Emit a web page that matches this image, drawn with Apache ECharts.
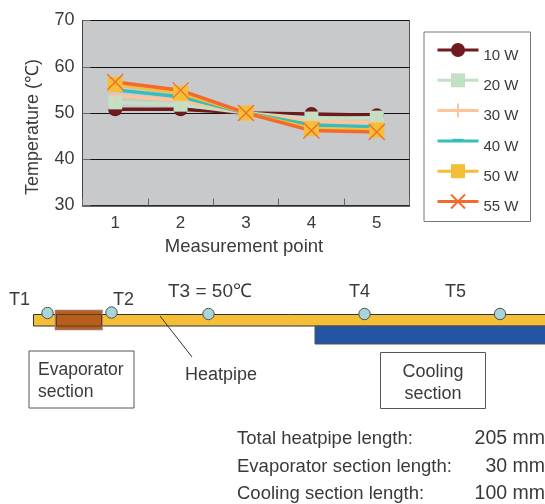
<!DOCTYPE html>
<html><head><meta charset="utf-8">
<style>html,body{margin:0;padding:0;background:#fff}#c{width:545px;height:504px}</style>
<script src="https://cdn.jsdelivr.net/npm/echarts@6/dist/echarts.min.js"></script>
</head><body><div id="c"></div>
<script>
const categories = ['1','2','3','4','5'];
const seriesNames = ['10 W','20 W','30 W','40 W','50 W','55 W'];
const w10 = [50.8,50.8,50,49.8,49.5];
const w20 = [52.3,51.8,50,48.8,49.0];
const w30 = [53.8,52.7,50,48.2,47.9];
const w40 = [55.0,53.5,50,47.4,47.0];
const w50 = [56.2,54.3,50,46.6,46.3];
const w55 = [56.7,54.9,50,46.2,45.9];
const yTicks = {min:30,max:70,interval:10};
const specRows = [['Total heatpipe length:','205 mm'],['Evaporator section length:','30 mm'],['Cooling section length:','100 mm']];

const FONT = '"Liberation Sans", Arial, sans-serif';
const TXT = '#3a3a3a';
const crossPath = 'path://M0,0L1,1M1,0L0,1';
const plusPath = 'path://M0.5,0L0.5,1M0,0.5L1,0.5';
const dashPath = 'path://M0,0L0,0M1,1L1,1M0.1,0.42L0.9,0.42';
function line(name,data,color,width,symbol,size,lineSymbol){
  return {name,type:'line',data,symbol,symbolSize:size,showAllSymbol:true,
    lineStyle:{color,width},
    itemStyle: lineSymbol ? {color:'rgba(0,0,0,0)',borderColor:color,borderWidth:1.3} : {color,borderWidth:0},
    emphasis:{disabled:true},animation:false};
}
function t(x,y,text,size,opts){
  return {type:'text',x,y,z:10,style:Object.assign({text,font:(size||15)+'px '+FONT,fill:TXT,textVerticalAlign:'middle',textBaseline:'middle'},opts||{})};
}
function r(x,y,w,h,fill,stroke,lw){
  return {type:'rect',z:5,shape:{x,y,width:w,height:h},style:{fill,stroke,lineWidth:lw||1}};
}
function dot(x,y){return {type:'circle',z:7,shape:{cx:x,cy:y,r:5.7},style:{fill:'#A9D5D8',stroke:'#44555a',lineWidth:1}};}

const graphic = [
  r(33.5,314.5,520,11.5,'#F4BE37','#333',1),
  r(315,326,240,18,'#2455A4','#555',1),
  r(55.5,310.5,46.5,19,'#B75E1C','#A87466',1.5),
  r(56.5,314.5,45,11.5,'rgba(0,0,0,0)','#5a3a20',1),
  dot(47.5,313),dot(111.5,312.5),dot(208.5,314),dot(364.5,314),dot(500,314),
  {type:'line',z:6,shape:{x1:160,y1:316,x2:192,y2:357},style:{stroke:'#333',lineWidth:1}},
  r(29,351,105,57,'#fff','#555',1),
  r(380.5,352.5,105,56,'#fff','#555',1),
  t(9,300,'T1',18),t(113,300,'T2',18),t(168,292,'T3 = 50℃',19),t(349,292,'T4',18),t(445,292,'T5',18),
  t(185,375,'Heatpipe',18),
  t(38,370,'Evaporator',17.5),t(38,392,'section',17.5),
  t(433,372,'Cooling',18,{textAlign:'center'}),t(433,394,'section',18,{textAlign:'center'})
];
specRows.forEach((row,i)=>{
  const y=439+i*27.5;
  graphic.push(t(237,y,row[0],18.5));
  graphic.push(t(545,y,row[1],19.5,{textAlign:'right'}));
});

const chart = echarts.init(document.getElementById('c'),null,{renderer:'canvas'});
chart.setOption({
  animation:false,
  backgroundColor:'#fff',
  grid:{left:82.5,top:20.5,width:327,height:185,backgroundColor:'#C8C9CB',show:true,borderColor:'#555',borderWidth:1},
  legend:{orient:'vertical',left:424,top:32,padding:[10,12,7,12],itemWidth:41,itemHeight:17.5,itemGap:9.3,
    borderColor:'#777',borderWidth:1,backgroundColor:'#fff',data:seriesNames,
    lineStyle:{width:3},
    formatter:n=>'{s|}\n{a|'+n+'}',
    textStyle:{rich:{s:{height:11,fontSize:1},a:{fontFamily:FONT,fontSize:15,color:TXT,height:15}}}},
  xAxis:{type:'category',data:categories,boundaryGap:true,
    name:'Measurement point',nameLocation:'middle',nameGap:32,nameTextStyle:{fontFamily:FONT,fontSize:18.5,color:TXT,padding:[0,4,0,0]},
    axisLine:{lineStyle:{color:'#333',width:1.5}},
    axisTick:{show:true,inside:true,length:7,alignWithLabel:false,lineStyle:{color:'#666'}},
    axisLabel:{fontFamily:FONT,fontSize:17,color:TXT,margin:9},splitLine:{show:false}},
  yAxis:{type:'value',min:yTicks.min,max:yTicks.max,interval:yTicks.interval,
    name:'Temperature (℃)',nameLocation:'middle',nameGap:40,nameTextStyle:{fontFamily:FONT,fontSize:18,color:TXT,padding:[0,28,0,0]},
    axisLine:{show:true,lineStyle:{color:'#444',width:1}},
    axisTick:{show:true,inside:true,length:8,lineStyle:{color:'#666'}},
    axisLabel:{fontFamily:FONT,fontSize:18,color:TXT,margin:8},
    splitLine:{show:true,lineStyle:{color:'#111',width:1}}},
  series:[
    line(seriesNames[0],w10,'#6E1A1E',3.5,'circle',14),
    line(seriesNames[1],w20,'#C2E0C3',3.5,'rect',14),
    line(seriesNames[2],w30,'#FBC49B',3.5,plusPath,14,true),
    line(seriesNames[3],w40,'#37BDBB',3.5,dashPath,14,true),
    line(seriesNames[4],w50,'#F4BE37',3.5,'rect',15),
    line(seriesNames[5],w55,'#F26A2E',3.5,crossPath,16,true)
  ],
  graphic
});
</script></body></html>
